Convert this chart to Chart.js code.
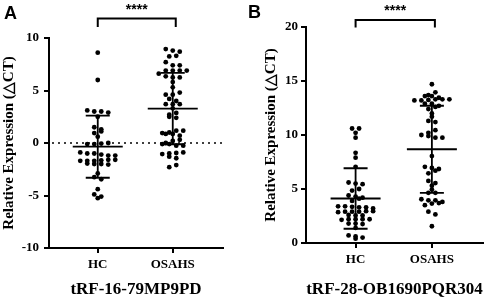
<!DOCTYPE html>
<html><head><meta charset="utf-8">
<script src="https://cdn.jsdelivr.net/npm/chart.js@4/dist/chart.umd.min.js"></script>
<style>
html,body{margin:0;padding:0;background:#fff;width:486px;height:300px;overflow:hidden}
.p{position:absolute;top:0;width:243px;height:300px}
canvas{display:block}
</style></head><body>
<div class="p" style="left:0"><canvas id="cA" width="243" height="300"></canvas></div>
<div class="p" style="left:243px"><canvas id="cB" width="243" height="300"></canvas></div>
<script>
// ---------- data ----------
const categories = ['HC', 'OSAHS'];
const yTitle = 'Relative Expression (△CT)';
const xTitleA = 'tRF-16-79MP9PD';
const xTitleB = 'tRF-28-OB1690PQR304';
const sigLabel = '****';

const hcA = [8.6, 6.0, 3.1, 3.0, 3.0, 2.9, 2.5, 1.5, 1.3, 1.1, 0.95, 0.6, 0.0, -0.05, -0.1, -0.1,
  -0.9, -1.0, -1.0, -1.1, -1.2, -1.2, -1.6, -1.6, -1.65, -1.7, -1.7, -1.7, -1.95, -2.0, -2.0, -2.05,
  -2.9, -3.25, -3.45, -4.4, -4.9, -5.1, -5.25];
const osahsA = [8.95, 8.8, 8.7, 8.3, 8.25, 7.7, 7.4, 7.4, 6.9, 6.9, 6.9, 6.9, 6.6, 6.35, 6.25, 6.25,
  5.8, 5.3, 4.8, 4.6, 4.6, 4.2, 4.0, 3.7, 3.7, 3.7, 3.3, 2.86, 2.7, 2.5, 2.4, 1.17, 1.17, 1.0, 0.95,
  0.86, 0.86, 0.7, 0.3, 0.2, 0.0, -0.1, -0.1, -0.25, -0.25, -0.9, -0.95, -1.0, -1.05, -1.3, -1.45, -2.1, -2.3];
const hcB = [10.6, 10.6, 10.2, 9.75, 8.35, 7.9, 7.05, 5.6, 5.5, 5.45, 5.0, 4.85, 4.4, 4.3, 4.2, 4.1, 3.9,
  3.4, 3.4, 3.35, 3.3, 3.3, 3.2, 2.95, 2.95, 2.9, 2.9, 2.9, 2.85, 2.6, 2.55, 2.55, 2.2, 2.2, 2.2, 2.15, 2.2,
  1.8, 1.8, 1.75, 1.4, 0.7, 0.6, 0.5, 0.4];
const osahsB = [14.7, 13.95, 13.6, 13.7, 13.6, 13.45, 13.3, 13.25, 13.3, 13.3, 13.2, 13.2, 12.6, 12.9,
  12.9, 12.7, 12.4, 12.0, 11.7, 11.3, 11.2, 10.45, 10.2, 10.0, 9.75, 9.9, 9.75, 8.05, 7.05, 6.95, 6.85,
  6.7, 6.45, 5.75, 5.55, 5.3, 4.95, 4.65, 4.65, 4.05, 3.95, 3.95, 3.8, 3.7, 3.65, 3.5, 2.9, 2.65, 1.55];

const meanA = [-0.35, 3.28];
const sdA = [2.96, 3.4];
const meanB = [4.12, 8.68];
const sdB = [2.8, 4.03];

const yTicksA = [-10, -5, 0, 5, 10];
const yTicksB = [0, 5, 10, 15, 20];

// ---------- layout / style ----------
const X_MIN = 0.35, X_MAX = 2.67;
const SERIF = '"Liberation Serif","Times New Roman",serif';
const SANS = '"Liberation Sans",Arial,sans-serif';

// row-based dot layout (horizontal spread only, y stays the value)
function swarm(values, pxPerX, pxPerY) {
  const idx = values.map((v, i) => i).sort((a, b) => values[b] - values[a]);
  const out = new Array(values.length).fill(0);
  const thr = 3.2, gap = 7;
  let row = [];
  let flip = 1;
  const flush = () => {
    const n = row.length;
    let shift = 0;
    if (n === 1) { shift = 0; }
    row.forEach((i, k) => { out[i] = ((k - (n - 1) / 2) * gap * flip + shift) / pxPerX; });
    flip = -flip;
    row = [];
  };
  idx.forEach(i => {
    if (row.length && (values[row[0]] - values[i]) * pxPerY > thr) flush();
    row.push(i);
  });
  if (row.length) flush();
  return out;
}

function makeChart(id, groups, means, sds, yTicks, xTitle, letter, L) {
  const plotW = 243 - L.padLeft - L.yW - L.padRight;
  const plotH = 300 - L.padTop - L.xH;
  const pxPerX = plotW / (X_MAX - X_MIN);
  const pxPerY = plotH / (yTicks[yTicks.length - 1] - yTicks[0]);
  const datasets = groups.map((vals, g) => {
    const off = swarm(vals, pxPerX, pxPerY);
    return {
      label: categories[g],
      data: vals.map((v, i) => ({x: g + 1 + off[i], y: v})),
      pointRadius: 2.4, pointHoverRadius: 2.4,
      backgroundColor: '#000', borderColor: '#000', borderWidth: 0, showLine: false
    };
  });

  const deco = {
    id: 'deco',
    afterDatasetsDraw(chart) {
      const ctx = chart.ctx, xs = chart.scales.x, ys = chart.scales.y, ca = chart.chartArea;
      ctx.save();
      ctx.strokeStyle = '#000';
      if (L.zeroLine) {
        ctx.lineWidth = 1.5; ctx.setLineDash([2, 4]);
        const y0 = ys.getPixelForValue(0);
        ctx.beginPath(); ctx.moveTo(ca.left + 3, y0); ctx.lineTo(ca.right, y0); ctx.stroke();
        ctx.setLineDash([]);
      }
      ctx.lineWidth = 1.8;
      means.forEach((m, g) => {
        const cx = xs.getPixelForValue(g + 1);
        const ym = ys.getPixelForValue(m);
        const yu = ys.getPixelForValue(m + sds[g]);
        const yl = ys.getPixelForValue(m - sds[g]);
        ctx.beginPath();
        ctx.moveTo(cx - 25, ym); ctx.lineTo(cx + 25, ym);
        ctx.moveTo(cx, yu); ctx.lineTo(cx, yl);
        ctx.moveTo(cx - 12, yu); ctx.lineTo(cx + 12, yu);
        ctx.moveTo(cx - 12, yl); ctx.lineTo(cx + 12, yl);
        ctx.stroke();
      });
      // significance bracket
      const x1 = xs.getPixelForValue(1), x2 = xs.getPixelForValue(2) + 3;
      ctx.lineWidth = 2;
      ctx.beginPath();
      ctx.moveTo(x1, L.brDown); ctx.lineTo(x1, L.brY); ctx.lineTo(x2, L.brY); ctx.lineTo(x2, L.brDown);
      ctx.stroke();
      ctx.fillStyle = '#000';
      ctx.font = 'bold 14px ' + SANS;
      ctx.textAlign = 'center'; ctx.textBaseline = 'middle';
      ctx.fillText(sigLabel, (x1 + x2) / 2, L.starY);
      ctx.font = 'bold 18px ' + SANS;
      ctx.textAlign = 'left'; ctx.textBaseline = 'alphabetic';
      ctx.fillText(letter, L.letterX, L.letterY);
      ctx.restore();
    }
  };

  return new Chart(document.getElementById(id), {
    type: 'scatter',
    data: {datasets},
    plugins: [deco],
    options: {
      responsive: false, animation: false, devicePixelRatio: 1,
      layout: {padding: {left: L.padLeft, right: L.padRight, top: L.padTop, bottom: 0}},
      plugins: {legend: {display: false}, tooltip: {enabled: false}},
      scales: {
        x: {
          type: 'linear', min: X_MIN, max: X_MAX,
          afterBuildTicks: s => { s.ticks = [{value: 1}, {value: 2}]; },
          afterFit: s => { s.height = L.xH; },
          ticks: {
            callback: v => categories[Math.round(v) - 1],
            font: {family: SERIF, size: 13, weight: 'bold'}, color: '#000', padding: 4,
            maxRotation: 0, autoSkip: false
          },
          grid: {drawOnChartArea: false, drawTicks: true, tickLength: 5, color: '#000', lineWidth: 2},
          border: {display: true, color: '#000', width: 2},
          title: {display: true, text: xTitle, color: '#000', padding: 0,
                  font: {family: SERIF, size: 17, weight: 'bold'}}
        },
        y: {
          type: 'linear', min: yTicks[0], max: yTicks[yTicks.length - 1],
          afterBuildTicks: s => { s.ticks = yTicks.map(v => ({value: v})); },
          afterFit: s => { s.width = L.yW; },
          ticks: {font: {family: SERIF, size: 13, weight: 'bold'}, color: '#000', padding: L.tickPad},
          grid: {drawOnChartArea: false, drawTicks: true, tickLength: 5, color: '#000', lineWidth: 2},
          border: {display: true, color: '#000', width: 2},
          title: {display: true, text: yTitle, color: '#000', padding: 0,
                  font: {family: SERIF, size: 15, weight: 'bold'}}
        }
      }
    }
  });
}

makeChart('cA', [hcA, osahsA], meanA, sdA, yTicksA, xTitleA, 'A',
  {padLeft: 0, yW: 49, padRight: 20, padTop: 38, xH: 52, tickPad: 5, zeroLine: true,
   brY: 18.5, brDown: 27, starY: 10, letterX: 4, letterY: 19});
makeChart('cB', [hcB, osahsB], meanB, sdB, yTicksB, xTitleB, 'B',
  {padLeft: 19, yW: 44, padRight: 3, padTop: 27, xH: 57, tickPad: 3, zeroLine: false,
   brY: 20, brDown: 27.5, starY: 11, letterX: 5, letterY: 18});
</script>
</body></html>
